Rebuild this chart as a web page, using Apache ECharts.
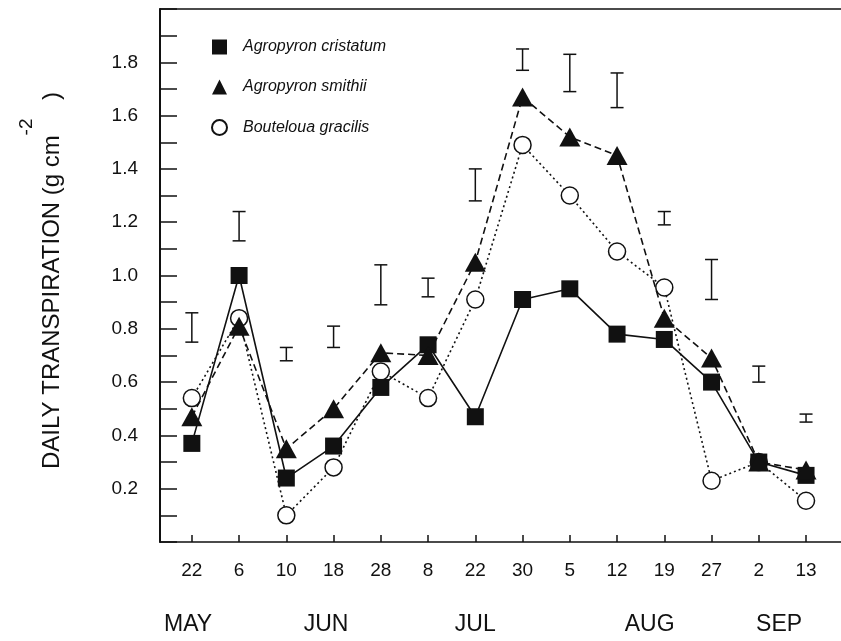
<!DOCTYPE html>
<html>
<head>
<meta charset="utf-8">
<script src="https://cdn.jsdelivr.net/npm/echarts@6/dist/echarts.min.js"></script>
<style>
html,body{margin:0;padding:0;background:#fff;}
#chart{width:841px;height:641px;}
</style>
</head>
<body>
<div id="chart"></div>
<script>
// ---- data ----
var dateLabels = ['22','6','10','18','28','8','22','30','5','12','19','27','2','13'];
var monthNames = ['MAY','JUN','JUL','AUG','SEP'];
var monthPos = [-0.08, 2.84, 6.0, 9.69, 12.43];
var cristatum = [0.37, 1.00, 0.24, 0.36, 0.58, 0.74, 0.47, 0.91, 0.95, 0.78, 0.76, 0.60, 0.30, 0.25];
var smithii   = [0.47, 0.81, 0.35, 0.50, 0.71, 0.70, 1.05, 1.67, 1.52, 1.45, 0.84, 0.69, 0.30, 0.27];
var gracilis  = [0.54, 0.84, 0.10, 0.28, 0.64, 0.54, 0.91, 1.49, 1.30, 1.09, 0.955, 0.23, 0.30, 0.155];
var errLow    = [0.75, 1.13, 0.68, 0.73, 0.89, 0.92, 1.28, 1.77, 1.69, 1.63, 1.19, 0.91, 0.60, 0.45];
var errHigh   = [0.86, 1.24, 0.73, 0.81, 1.04, 0.99, 1.40, 1.85, 1.83, 1.76, 1.24, 1.06, 0.66, 0.48];

var FONT = '"Liberation Sans", Arial, Helvetica, sans-serif';
var INK = '#111';

function pairs(arr){ return arr.map(function(v,i){ return [i, v]; }); }
var idx = dateLabels.map(function(d,i){ return i; });
var errData = idx.map(function(i){ return [i, errLow[i], errHigh[i]]; });

var chart = echarts.init(document.getElementById('chart'));
chart.setOption({
  animation: false,
  backgroundColor: '#fff',
  grid: { left: 160, right: -4, top: 9, bottom: 99 },
  legend: {
    orient: 'vertical', left: 206, top: 34, itemWidth: 15, itemHeight: 15, itemGap: 24,
    textStyle: { fontFamily: FONT, fontSize: 16, fontStyle: 'italic', color: INK, padding: [0,0,0,11] },
    data: [
      { name: 'Agropyron cristatum', icon: 'rect' },
      { name: 'Agropyron smithii', icon: 'triangle' },
      { name: 'Bouteloua gracilis', icon: 'circle' }
    ]
  },
  xAxis: [{
    type: 'value', min: -0.674, max: 13.74,
    axisLine: { onZero: false, lineStyle: { color: INK, width: 1.5 } },
    axisTick: { inside: true, length: 7, customValues: idx, lineStyle: { color: INK, width: 1.5 } },
    axisLabel: { customValues: idx, margin: 19, fontFamily: FONT, fontSize: 19, color: INK,
      formatter: function(v){ return dateLabels[Math.round(v)] || ''; } },
    splitLine: { show: false }
  }, {
    type: 'value', min: -0.674, max: 13.74, position: 'bottom',
    axisLine: { show: false }, axisTick: { show: false }, splitLine: { show: false },
    axisLabel: { customValues: monthPos, margin: 71, fontFamily: FONT, fontSize: 23, color: INK,
      formatter: function(v){ var k = monthPos.indexOf(v); return k >= 0 ? monthNames[k] : ''; } }
  }, {
    type: 'value', min: -0.674, max: 13.74, position: 'top',
    axisLine: { show: true, onZero: false, lineStyle: { color: INK, width: 1.5 } },
    axisTick: { show: false }, axisLabel: { show: false }, splitLine: { show: false }
  }],
  yAxis: {
    type: 'value', min: 0, max: 2, interval: 0.1,
    axisLine: { show: true, onZero: false, lineStyle: { color: INK, width: 2 } },
    axisTick: { inside: true, length: 17, lineStyle: { color: INK, width: 1.5 } },
    axisLabel: { margin: 22, fontFamily: FONT, fontSize: 19, color: INK,
      formatter: function(v){
        var t = Math.round(v * 10);
        return (t % 2 === 0 && t >= 2 && t <= 18) ? (t / 10).toFixed(1) : '';
      } },
    splitLine: { show: false }
  },
  graphic: [
    { type: 'text', x: 52, y: 469, rotation: Math.PI / 2,
      style: { text: 'DAILY TRANSPIRATION (g cm', font: '24px ' + FONT, fill: INK, textAlign: 'left', textVerticalAlign: 'middle' } },
    { type: 'text', x: 52, y: 96, rotation: Math.PI / 2,
      style: { text: ')', font: '24px ' + FONT, fill: INK, textAlign: 'center', textVerticalAlign: 'middle' } },
    { type: 'text', x: 27, y: 127, rotation: Math.PI / 2,
      style: { text: '-2', font: '19px ' + FONT, fill: INK, textAlign: 'center', textVerticalAlign: 'middle' } }
  ],
  series: [
    {
      name: 'Bouteloua gracilis', type: 'line', data: pairs(gracilis),
      symbol: 'circle', symbolSize: 17,
      itemStyle: { color: '#fff', borderColor: INK, borderWidth: 1.5 },
      lineStyle: { color: INK, width: 1.6, type: [2, 3] }, z: 3
    },
    {
      name: 'Agropyron cristatum', type: 'line', data: pairs(cristatum),
      symbol: 'rect', symbolSize: 17,
      itemStyle: { color: INK },
      lineStyle: { color: INK, width: 1.6, type: 'solid' }, z: 4
    },
    {
      name: 'Agropyron smithii', type: 'line', data: pairs(smithii),
      symbol: 'triangle', symbolSize: [21, 19],
      itemStyle: { color: INK },
      lineStyle: { color: INK, width: 1.6, type: [7, 4] }, z: 5
    },
    {
      name: 'SE', type: 'custom', data: errData, z: 6,
      encode: { x: 0, y: [1, 2] },
      renderItem: function(params, api){
        var lo = api.coord([api.value(0), api.value(1)]);
        var hi = api.coord([api.value(0), api.value(2)]);
        var w = 6.5;
        var st = { stroke: INK, lineWidth: 1.5 };
        return { type: 'group', children: [
          { type: 'line', shape: { x1: lo[0], y1: lo[1], x2: hi[0], y2: hi[1] }, style: st },
          { type: 'line', shape: { x1: lo[0]-w, y1: lo[1], x2: lo[0]+w, y2: lo[1] }, style: st },
          { type: 'line', shape: { x1: hi[0]-w, y1: hi[1], x2: hi[0]+w, y2: hi[1] }, style: st }
        ]};
      }
    }
  ]
});
</script>
</body>
</html>
